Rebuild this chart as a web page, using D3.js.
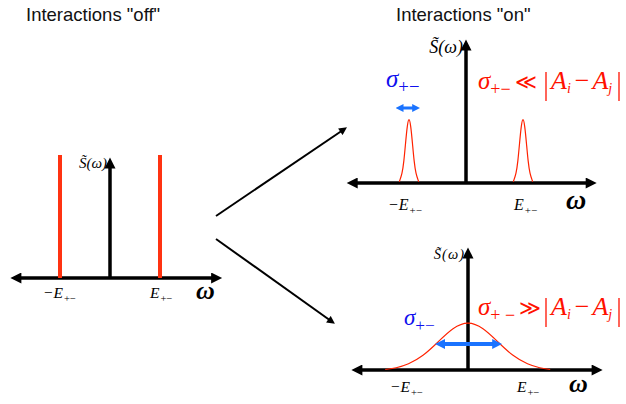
<!DOCTYPE html>
<html>
<head>
<meta charset="utf-8">
<script src="https://cdn.jsdelivr.net/npm/d3@7"></script>
<style>
  body { margin: 0; background: #fff; }
  svg { display: block; }
  .title { font-family: "Liberation Sans", Arial, sans-serif; font-size: 18.5px; fill: #111; }
  .math { font-family: "Liberation Serif", "Times New Roman", serif; font-style: italic; }
</style>
</head>
<body>
<svg id="chart" width="626" height="404"></svg>
<script>
const offPeaks = [-1, 1];
const narrowPeaks = [-1, 1];
const narrowOffsets = [-0.17, -0.12, -0.09, -0.06, -0.03, 0, 0.03, 0.06, 0.09, 0.12, 0.17];
const narrowHeights = [0.02, 0.14, 0.32, 0.61, 0.88, 1, 0.88, 0.61, 0.32, 0.14, 0.02];
const broadOmega = [-1.38, -1.2, -1.0, -0.75, -0.5, -0.25, 0, 0.25, 0.5, 0.75, 1.0, 1.2, 1.37];
const broadHeights = [0.01, 0.04, 0.11, 0.28, 0.57, 0.87, 1, 0.87, 0.57, 0.28, 0.11, 0.04, 0.01];
const tickLabels = ['\u2212E', 'E'];
const titles = ['Interactions "off"', 'Interactions "on"'];

const svg = d3.select('#chart');

// arrowheads: tip sits 60% of the width past the line end
const defs = svg.append('defs');
const marker = (id, color, w, h) => defs.append('marker')
  .attr('id', id).attr('viewBox', '0 0 10 10')
  .attr('refX', 4).attr('refY', 5)
  .attr('markerWidth', w).attr('markerHeight', h)
  .attr('markerUnits', 'userSpaceOnUse')
  .attr('orient', 'auto-start-reverse')
  .append('path').attr('d', 'M0,0 L10,5 L0,10 Z').attr('fill', color);
marker('ax', '#000', 12, 11);
marker('bl', '#1a73ff', 10, 10);
marker('bls', '#1a73ff', 8, 9);
marker('sm', '#000', 10, 8);

svg.selectAll('.title').data(titles).join('text')
  .attr('class', 'title')
  .attr('x', (d, i) => i ? 396 : 26)
  .attr('y', 21)
  .text(d => d);

// one panel: axes, labels
const panel = cfg => {
  const g = svg.append('g');
  const x = d3.scaleLinear().domain([-1, 1]).range([cfg.cx - cfg.unit, cfg.cx + cfg.unit]);
  const y = d3.scaleLinear().domain([0, 1]).range([cfg.y0, cfg.y0 - cfg.amp]);

  g.append('line')
    .attr('x1', x(cfg.xExt[0]) + 7).attr('x2', x(cfg.xExt[1]) - 7)
    .attr('y1', y(0)).attr('y2', y(0))
    .attr('stroke', '#000').attr('stroke-width', 3.5)
    .attr('marker-start', 'url(#ax)').attr('marker-end', 'url(#ax)');
  g.append('line')
    .attr('x1', x(0)).attr('x2', x(0))
    .attr('y1', y(0)).attr('y2', cfg.yTop + 7)
    .attr('stroke', '#000').attr('stroke-width', 3.5)
    .attr('marker-end', 'url(#ax)');

  // S~(omega)
  g.append('text').attr('class', 'math')
    .attr('x', x(0) - 3).attr('y', cfg.sY)
    .attr('text-anchor', 'end')
    .attr('font-size', cfg.sSize)
    .attr('letter-spacing', cfg.sLs || 0)
    .text('S\u0303(\u03c9)');

  // tick labels -E+-, E+-
  const tl = g.selectAll('.tl').data(tickLabels).join('text')
    .attr('class', 'math')
    .attr('x', (d, i) => x(i ? 1 : -1) + cfg.labDx[i])
    .attr('y', cfg.labY)
    .attr('font-size', cfg.labSize)
    .text(d => d);
  tl.append('tspan').attr('dy', 4).attr('dx', 1).attr('font-size', cfg.labSize * 0.68)
    .attr('font-style', 'normal').text('+\u2212');

  g.append('text').attr('class', 'math')
    .attr('x', cfg.wX).attr('y', cfg.wY)
    .attr('font-size', cfg.wSize).attr('font-weight', 'bold')
    .text('\u03c9');
  return {g, x, y};
};

// left: interactions off
const leftP = panel({cx: 110, unit: 50, y0: 278, amp: 123, yTop: 157, xExt: [-2, 2.25],
  sY: 168, sSize: 15, labY: 298, labSize: 15.5, labDx: [-17, -10], wX: 196, wY: 299, wSize: 26});
leftP.g.selectAll('.bar').data(offPeaks).join('line')
  .attr('x1', d => leftP.x(d)).attr('x2', d => leftP.x(d))
  .attr('y1', leftP.y(0)).attr('y2', leftP.y(1))
  .attr('stroke', '#ff3311').attr('stroke-width', 4);

// top right: narrow peaks
const topP = panel({cx: 466, unit: 57, y0: 183, amp: 66, yTop: 39, xExt: [-2.1, 2.3],
  sY: 53, sSize: 18, labY: 210, labSize: 16, labDx: [-21, -9], wX: 566, wY: 209, wSize: 28});
const narrowLine = d3.line().curve(d3.curveBasis);
topP.g.selectAll('.peak').data(narrowPeaks).join('path')
  .attr('d', c => narrowLine(narrowOffsets.map((o, i) => [topP.x(c + o), topP.y(narrowHeights[i])])))
  .attr('fill', 'none').attr('stroke', '#ff2200').attr('stroke-width', 1.2);

// bottom right: broad peak
const botP = panel({cx: 468, unit: 60, y0: 370, amp: 49, yTop: 247, xExt: [-1.95, 2.25],
  sY: 259, sSize: 14.5, sLs: 1, labY: 392, labSize: 15.5, labDx: [-18, -11], wX: 569, wY: 392, wSize: 26});
botP.g.append('path')
  .attr('d', d3.line().curve(d3.curveBasis)(broadOmega.map((o, i) => [botP.x(o), botP.y(broadHeights[i])])))
  .attr('fill', 'none').attr('stroke', '#ff2200').attr('stroke-width', 1.1);

// width arrows (blue)
const blueArrow = (x1, x2, yy, sw, m, inset) => svg.append('line')
  .attr('x1', x1 + inset).attr('x2', x2 - inset).attr('y1', yy).attr('y2', yy)
  .attr('stroke', '#1a73ff').attr('stroke-width', sw)
  .attr('marker-start', `url(#${m})`).attr('marker-end', `url(#${m})`);
blueArrow(topP.x(-1.24), topP.x(-0.8), 108, 3, 'bls', 5);
blueArrow(botP.x(-0.55), botP.x(0.57), 344, 4, 'bl', 6);

// sigma labels
const sigma = (xx, yy, size, color, sub) => {
  const t = svg.append('text').attr('class', 'math').attr('x', xx).attr('y', yy)
    .attr('font-size', size).attr('fill', color).text('\u03c3');
  t.append('tspan').attr('dy', size * 0.25).attr('font-size', size * 0.75)
    .attr('font-style', 'normal').text(sub);
  return t;
};
sigma(386, 87, 25, '#1010ee', '+\u2212');
sigma(404, 325, 23, '#1010ee', '+\u2212');

// red relations
const relation = (yy, rel, sub) => {
  const g = svg.append('g').attr('fill', '#ff1100');
  const t = g.append('text').attr('class', 'math').attr('x', 478).attr('y', yy).attr('font-size', 25);
  t.append('tspan').text('\u03c3');
  t.append('tspan').attr('dy', 6).attr('font-size', 18).attr('font-style', 'normal').text(sub);
  t.append('tspan').attr('dy', -6).attr('dx', 4).attr('font-style', 'normal')
    .attr('font-size', 21).attr('font-family', '"DejaVu Serif", serif').text(rel);
  const t2 = g.append('text').attr('class', 'math').attr('x', 551).attr('y', yy).attr('font-size', 26);
  t2.append('tspan').text('A');
  t2.append('tspan').attr('dy', 4).attr('font-size', 14).text('i');
  t2.append('tspan').attr('dy', -4).attr('dx', 4).attr('font-style', 'normal').text('\u2212');
  t2.append('tspan').attr('dx', 3).text('A');
  t2.append('tspan').attr('dy', 4).attr('font-size', 14).text('j');
  g.selectAll('line').data([546, 619]).join('line')
    .attr('x1', d => d).attr('x2', d => d)
    .attr('y1', yy - 17).attr('y2', yy + 12)
    .attr('stroke', '#ff1100').attr('stroke-width', 1.3);
};
relation(89, '\u226a', '+\u2212');
relation(315, '\u226b', '+ \u2212');

// connecting arrows
const conn = [[216, 216, 343, 130], [216, 239, 331, 321]];
svg.selectAll('.conn').data(conn).join('line')
  .attr('x1', d => d[0]).attr('y1', d => d[1]).attr('x2', d => d[2]).attr('y2', d => d[3])
  .attr('stroke', '#000').attr('stroke-width', 2)
  .attr('marker-end', 'url(#sm)');
</script>
</body>
</html>
